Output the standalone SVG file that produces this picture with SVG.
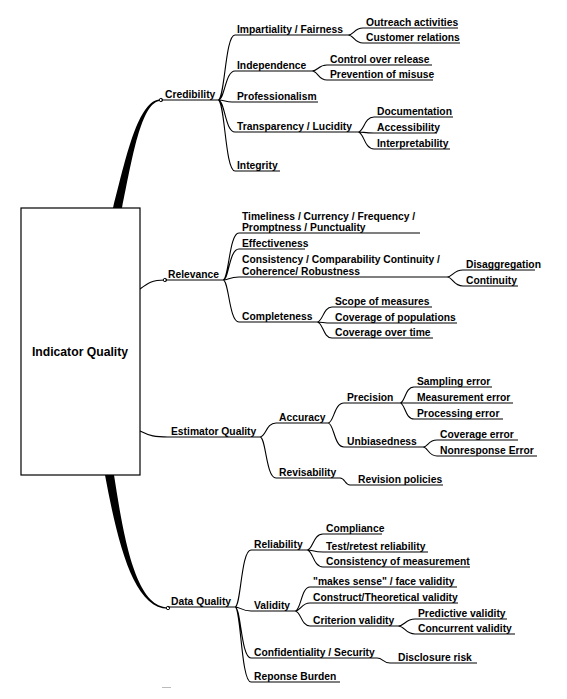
<svg xmlns="http://www.w3.org/2000/svg" width="567" height="699" viewBox="0 0 567 699">
<style>
text{font-family:"Liberation Sans",Arial,sans-serif;font-weight:bold;font-size:10.3px;fill:#000}
text.big{font-size:12.2px}
.u{stroke:#000;stroke-width:1.1;fill:none}
.c{stroke:#000;stroke-width:1.1;fill:none}
.dot{fill:#fff;stroke:#000;stroke-width:0.9}
</style>
<rect width="567" height="699" fill="#fff"/>
<g id="connectors">
<path d="M113,208 C126,158 138,99.3 161,99.3 L161,100.7 C141,100.7 132,160 122,208 Z" fill="#000"/>
<path d="M140,289 C148,283 152,280 165,280" class="c" stroke-width="1.6"/>
<path d="M140,431 C150,436 155,437 168,437" class="c" stroke-width="1.4"/>
<path d="M105,475 C118,545 134,608.7 168,608.7 L168,607.3 C136,607.3 124,540 114,475 Z" fill="#000"/>
<path class="c" d="M218,100 C225,100 225,35 235,35 M218,100 C225,100 225,71 235,71 M218,100 C225,100 225,102 232,102 M218,100 C225,100 225,132 235,132 M218,100 C225,100 225,171 235,171"/>
<path class="c" d="M348,35 C354,35 354,28 363,28 M348,35 C354,35 354,43 363,43"/>
<path class="c" d="M312,71 C318,71 318,65 327,65 M312,71 C318,71 318,80 327,80"/>
<path class="c" d="M358,132 C364,132 364,117 374,117 M358,132 C364,132 364,133 374,133 M358,132 C364,132 364,149 374,149"/>
<path class="c" d="M223,280 C229,280 229,233 239,233 M223,280 C229,280 229,249 239,249 M223,280 C229,280 229,277 239,277 M223,280 C229,280 229,322 239,322"/>
<path class="c" d="M447,277 C453,277 453,270 463,270 M447,277 C453,277 453,286 463,286"/>
<path class="c" d="M317,322 C323,322 323,307 332,307 M317,322 C323,322 323,323 332,323 M317,322 C323,322 323,338 332,338"/>
<path class="c" d="M260,437 C266,437 266,423 276,423 M260,437 C266,437 266,478 276,478"/>
<path class="c" d="M328,423 C334,423 334,403 344,403 M328,423 C334,423 334,447 344,447"/>
<path class="c" d="M400,403 C405,403 405,387 414,387 M400,403 C405,403 405,403 414,403 M400,403 C405,403 405,419 414,419"/>
<path class="c" d="M423,447 C428,447 428,440 437,440 M423,447 C428,447 428,456 437,456"/>
<path class="c" d="M340,478 C345,478 345,485 350,485"/>
<path class="c" d="M235,607 C241,607 241,550 251,550 M235,607 C241,607 241,611 251,611 M235,607 C241,607 241,658 251,658 M235,607 C241,607 241,682 251,682"/>
<path class="c" d="M307,550 C313,550 313,534 323,534 M307,550 C313,550 313,552 323,552 M307,550 C313,550 313,567 323,567"/>
<path class="c" d="M295,611 C301,611 301,587 310,587 M295,611 C301,611 301,603 310,603 M295,611 C301,611 301,626 310,626"/>
<path class="c" d="M398,626 C405,626 405,619 415,619 M398,626 C405,626 405,634 415,634"/>
<path class="c" d="M377,658 C383,658 383,663 390,663"/>
<circle class="dot" cx="161" cy="100" r="1.7"/>
<circle class="dot" cx="165" cy="280" r="1.7"/>
<circle class="dot" cx="168" cy="608" r="1.7"/>
</g>
<g id="indicator-quality">
<rect x="21" y="208" width="119" height="267" fill="#fff" stroke="#000" stroke-width="1.2"/>
<text class="big" x="80" y="356" text-anchor="middle">Indicator Quality</text>
</g>
<g id="credibility"><text x="165" y="97.5">Credibility</text><line class="u" x1="161" y1="100" x2="218" y2="100"/></g>
<g id="impartiality"><text x="237" y="32.5">Impartiality / Fairness</text><line class="u" x1="235" y1="35" x2="348" y2="35"/></g>
<g id="outreach"><text x="366" y="25.5">Outreach activities</text><line class="u" x1="363" y1="28" x2="458" y2="28"/></g>
<g id="customer"><text x="366" y="40.5">Customer relations</text><line class="u" x1="363" y1="43" x2="460" y2="43"/></g>
<g id="independence"><text x="237" y="68.5">Independence</text><line class="u" x1="235" y1="71" x2="312" y2="71"/></g>
<g id="control"><text x="330" y="62.5">Control over release</text><line class="u" x1="327" y1="65" x2="432" y2="65"/></g>
<g id="prevention"><text x="330" y="77.5">Prevention of misuse</text><line class="u" x1="327" y1="80" x2="433" y2="80"/></g>
<g id="professionalism"><text x="237" y="99.5">Professionalism</text><line class="u" x1="232" y1="102" x2="318" y2="102"/></g>
<g id="transparency"><text x="237" y="129.5">Transparency / Lucidity</text><line class="u" x1="235" y1="132" x2="358" y2="132"/></g>
<g id="documentation"><text x="377" y="114.5">Documentation</text><line class="u" x1="374" y1="117" x2="453" y2="117"/></g>
<g id="accessibility"><text x="377" y="130.5">Accessibility</text><line class="u" x1="374" y1="133" x2="437" y2="133"/></g>
<g id="interpretability"><text x="377" y="146.5">Interpretability</text><line class="u" x1="374" y1="149" x2="450" y2="149"/></g>
<g id="integrity"><text x="237" y="168.5">Integrity</text><line class="u" x1="235" y1="171" x2="280" y2="171"/></g>
<g id="relevance"><text x="168" y="277.5">Relevance</text><line class="u" x1="165" y1="280" x2="223" y2="280"/></g>
<g id="timeliness"><text x="242" y="219.5">Timeliness / Currency / Frequency /</text><text x="242" y="231">Promptness / Punctuality</text><line class="u" x1="239" y1="233" x2="420" y2="233"/></g>
<g id="effectiveness"><text x="242" y="246.5">Effectiveness</text><line class="u" x1="239" y1="249" x2="305" y2="249"/></g>
<g id="consistency"><text x="242" y="262.5">Consistency / Comparability Continuity /</text><text x="242" y="274.5">Coherence/ Robustness</text><line class="u" x1="239" y1="277" x2="447" y2="277"/></g>
<g id="disaggregation"><text x="466" y="267.5">Disaggregation</text><line class="u" x1="463" y1="270" x2="535" y2="270"/></g>
<g id="continuity"><text x="466" y="283.5">Continuity</text><line class="u" x1="463" y1="286" x2="518" y2="286"/></g>
<g id="completeness"><text x="242" y="319.5">Completeness</text><line class="u" x1="239" y1="322" x2="317" y2="322"/></g>
<g id="scope"><text x="335" y="304.5">Scope of measures</text><line class="u" x1="332" y1="307" x2="432" y2="307"/></g>
<g id="coverage-pop"><text x="335" y="320.5">Coverage of populations</text><line class="u" x1="332" y1="323" x2="457" y2="323"/></g>
<g id="coverage-time"><text x="335" y="335.5">Coverage over time</text><line class="u" x1="332" y1="338" x2="433" y2="338"/></g>
<g id="estimator"><text x="171" y="434.5">Estimator Quality</text><line class="u" x1="168" y1="437" x2="260" y2="437"/></g>
<g id="accuracy"><text x="279" y="420.5">Accuracy</text><line class="u" x1="276" y1="423" x2="328" y2="423"/></g>
<g id="precision"><text x="347" y="400.5">Precision</text><line class="u" x1="344" y1="403" x2="400" y2="403"/></g>
<g id="sampling"><text x="417" y="384.5">Sampling error</text><line class="u" x1="414" y1="387" x2="492" y2="387"/></g>
<g id="measurement"><text x="417" y="400.5">Measurement error</text><line class="u" x1="414" y1="403" x2="513" y2="403"/></g>
<g id="processing"><text x="417" y="416.5">Processing error</text><line class="u" x1="414" y1="419" x2="503" y2="419"/></g>
<g id="unbiasedness"><text x="347" y="444.5">Unbiasedness</text><line class="u" x1="344" y1="447" x2="423" y2="447"/></g>
<g id="coverage-error"><text x="440" y="437.5">Coverage error</text><line class="u" x1="437" y1="440" x2="518" y2="440"/></g>
<g id="nonresponse"><text x="440" y="453.5">Nonresponse Error</text><line class="u" x1="437" y1="456" x2="537" y2="456"/></g>
<g id="revisability"><text x="279" y="475.5">Revisability</text><line class="u" x1="276" y1="478" x2="340" y2="478"/></g>
<g id="revision"><text x="358" y="482.5">Revision policies</text><line class="u" x1="350" y1="485" x2="443" y2="485"/></g>
<g id="data-quality"><text x="171" y="604.5">Data Quality</text><line class="u" x1="168" y1="607" x2="235" y2="607"/></g>
<g id="reliability"><text x="254" y="547.5">Reliability</text><line class="u" x1="251" y1="550" x2="307" y2="550"/></g>
<g id="compliance"><text x="326" y="531.5">Compliance</text><line class="u" x1="323" y1="534" x2="382" y2="534"/></g>
<g id="test-retest"><text x="326" y="549.5">Test/retest reliability</text><line class="u" x1="323" y1="552" x2="428" y2="552"/></g>
<g id="consistency-meas"><text x="326" y="564.5">Consistency of measurement</text><line class="u" x1="323" y1="567" x2="470" y2="567"/></g>
<g id="validity"><text x="254" y="608.5">Validity</text><line class="u" x1="251" y1="611" x2="295" y2="611"/></g>
<g id="face"><text x="313" y="584.5">"makes sense" / face validity</text><line class="u" x1="310" y1="587" x2="457" y2="587"/></g>
<g id="construct"><text x="313" y="600.5">Construct/Theoretical validity</text><line class="u" x1="310" y1="603" x2="458" y2="603"/></g>
<g id="criterion"><text x="313" y="623.5">Criterion validity</text><line class="u" x1="310" y1="626" x2="398" y2="626"/></g>
<g id="predictive"><text x="418" y="616.5">Predictive validity</text><line class="u" x1="415" y1="619" x2="507" y2="619"/></g>
<g id="concurrent"><text x="418" y="631.5">Concurrent validity</text><line class="u" x1="415" y1="634" x2="515" y2="634"/></g>
<g id="confidentiality"><text x="254" y="655.5">Confidentiality / Security</text><line class="u" x1="251" y1="658" x2="377" y2="658"/></g>
<g id="disclosure"><text x="398" y="660.5">Disclosure risk</text><line class="u" x1="390" y1="663" x2="477" y2="663"/></g>
<g id="burden"><text x="254" y="679.5">Reponse Burden</text><line class="u" x1="251" y1="682" x2="340" y2="682"/></g>
<line x1="162" y1="687.5" x2="171" y2="687.5" stroke="#bbb" stroke-width="1"/>
</svg>
